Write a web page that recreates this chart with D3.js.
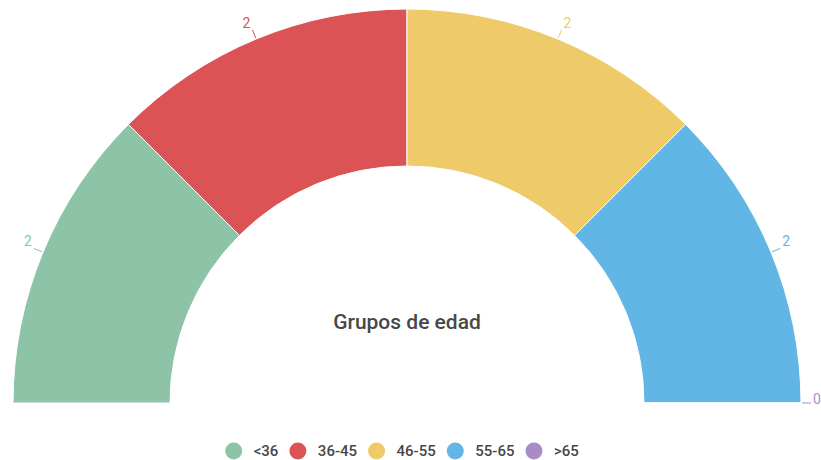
<!DOCTYPE html>
<html><head><meta charset="utf-8">
<script src="https://cdn.jsdelivr.net/npm/d3@7"></script>
<style>html,body{margin:0;padding:0;background:#fff;}svg{display:block;font-family:Roboto,"Noto Sans",sans-serif;}</style>
</head><body>
<svg id="c" width="821" height="460"></svg>
<script>
const categories = ["<36", "36-45", "46-55", "55-65", ">65"];
const values = [2, 2, 2, 2, 0];
const colors = ["#8dc4a8", "#dc5356", "#efca69", "#62b6e5", "#a98cc6"];
const title = "Grupos de edad";

const svg = d3.select("#c");
const cx = 407, cy = 403, rOuter = 394, rInner = 237;

const pie = d3.pie().value(d => d.v).sort(null).startAngle(-Math.PI/2).endAngle(Math.PI/2);
const data = categories.map((c, i) => ({c, v: values[i], col: colors[i]}));
const arcs = pie(data);
const arc = d3.arc().innerRadius(rInner).outerRadius(rOuter);

const g = svg.append("g").attr("transform", `translate(${cx},${cy})`);
g.selectAll("path.slice").data(arcs).enter().append("path")
  .attr("class", "slice")
  .attr("d", arc)
  .attr("fill", d => d.data.col)
  .attr("stroke", "#fff").attr("stroke-width", 1);

// labels
const pt = (a, r) => [Math.sin(a) * r, -Math.cos(a) * r];
arcs.forEach(d => {
  const a = (d.startAngle + d.endAngle) / 2;
  const p1 = pt(a, rOuter + 1), p2 = pt(a, rOuter + 10);
  g.append("line").attr("x1", p1[0]).attr("y1", p1[1]).attr("x2", p2[0]).attr("y2", p2[1])
    .attr("stroke", d.data.col).attr("stroke-width", 1);
  const right = Math.sin(a) >= 0;
  const zeroEnd = Math.abs(a - Math.PI/2) < 1e-6;
  g.append("text")
    .attr("x", p2[0] + (right ? 2 : -2))
    .attr("y", p2[1] + (zeroEnd ? 1 : -2))
    .attr("text-anchor", right ? "start" : "end")
    .attr("font-size", 14)
    .attr("fill", d.data.col)
    .text(d.data.v);
});

// center title
svg.append("text").attr("x", cx).attr("y", 329)
  .attr("text-anchor", "middle").attr("font-size", 21).attr("font-weight", 500)
  .attr("fill", "#474747").text(title);

// legend
const lg = svg.append("g");
let x = 0;
data.forEach((d, i) => {
  const it = lg.append("g");
  it.append("circle").attr("cx", x + 8.5).attr("cy", 0).attr("r", 8.5).attr("fill", d.col);
  const t = it.append("text").attr("x", x + 28.5).attr("y", 5).attr("font-size", 15).attr("font-weight", 500)
    .attr("fill", "#474747").text(d.c);
  const w = t.node().getComputedTextLength();
  x += 28.5 + w + 11;
});
const total = x - 11;
lg.attr("transform", `translate(${402 - total/2},451)`);
</script>
</body></html>
